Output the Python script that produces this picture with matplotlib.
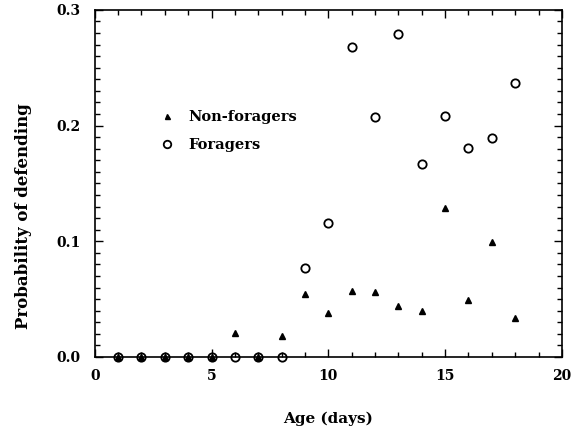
import matplotlib.pyplot as plt
from matplotlib.ticker import MultipleLocator

plt.rcParams['font.family'] = ['DejaVu Serif']
plt.rcParams['font.weight'] = 'bold'

## data
age = [1, 2, 3, 4, 5, 6, 7, 8, 9, 10, 11, 12, 13, 14, 15, 16, 17, 18]
non_foragers = [0, 0, 0, 0, 0, 0.0205, 0, 0.018, 0.0545, 0.0377, 0.057, 0.056,
                0.044, 0.0398, 0.129, 0.049, 0.0997, 0.0334]
foragers = [0, 0, 0, 0, 0, 0, 0, 0, 0.0767, 0.1155, 0.268, 0.2077, 0.279,
            0.1665, 0.208, 0.181, 0.1895, 0.2365]

fig = plt.figure(figsize=(5.71, 4.29), dpi=100)
ax = fig.add_axes([0.166, 0.168, 0.818, 0.809])

ax.plot(age, non_foragers, '^', color='black', markersize=4, label='Non-foragers',
        clip_on=False, zorder=3)
ax.plot(age, foragers, 'o', mfc='none', mec='black', mew=1.3, markersize=6,
        label='Foragers', clip_on=False, zorder=3)

ax.set_xlim(0, 20)
ax.set_ylim(0, 0.3)
ax.xaxis.set_major_locator(MultipleLocator(5))
ax.xaxis.set_minor_locator(MultipleLocator(1))
ax.yaxis.set_major_locator(MultipleLocator(0.1))
ax.yaxis.set_minor_locator(MultipleLocator(0.01))
ax.yaxis.set_major_formatter(plt.FormatStrFormatter('%.1f'))
ax.tick_params(which='both', direction='in', top=True, right=True, labelsize=10, width=1)
ax.tick_params(which='major', length=6)
ax.tick_params(which='minor', length=3.5)
ax.tick_params(axis='y', pad=10)
ax.tick_params(axis='x', pad=9)
for s in ax.spines.values():
    s.set_linewidth(1.2)

ax.set_xlabel('Age (days)', fontsize=11, fontweight='bold', labelpad=20)
ax.set_ylabel('Probability of defending', fontsize=12, fontweight='bold')
ax.yaxis.set_label_coords(-0.135, 0.406)

ax.legend(loc='upper left', bbox_to_anchor=(0.095, 0.75), frameon=False, fontsize=10.5,
          handletextpad=0.5, labelspacing=0.95, markerscale=0.9)

plt.savefig('out.png', dpi=100)
